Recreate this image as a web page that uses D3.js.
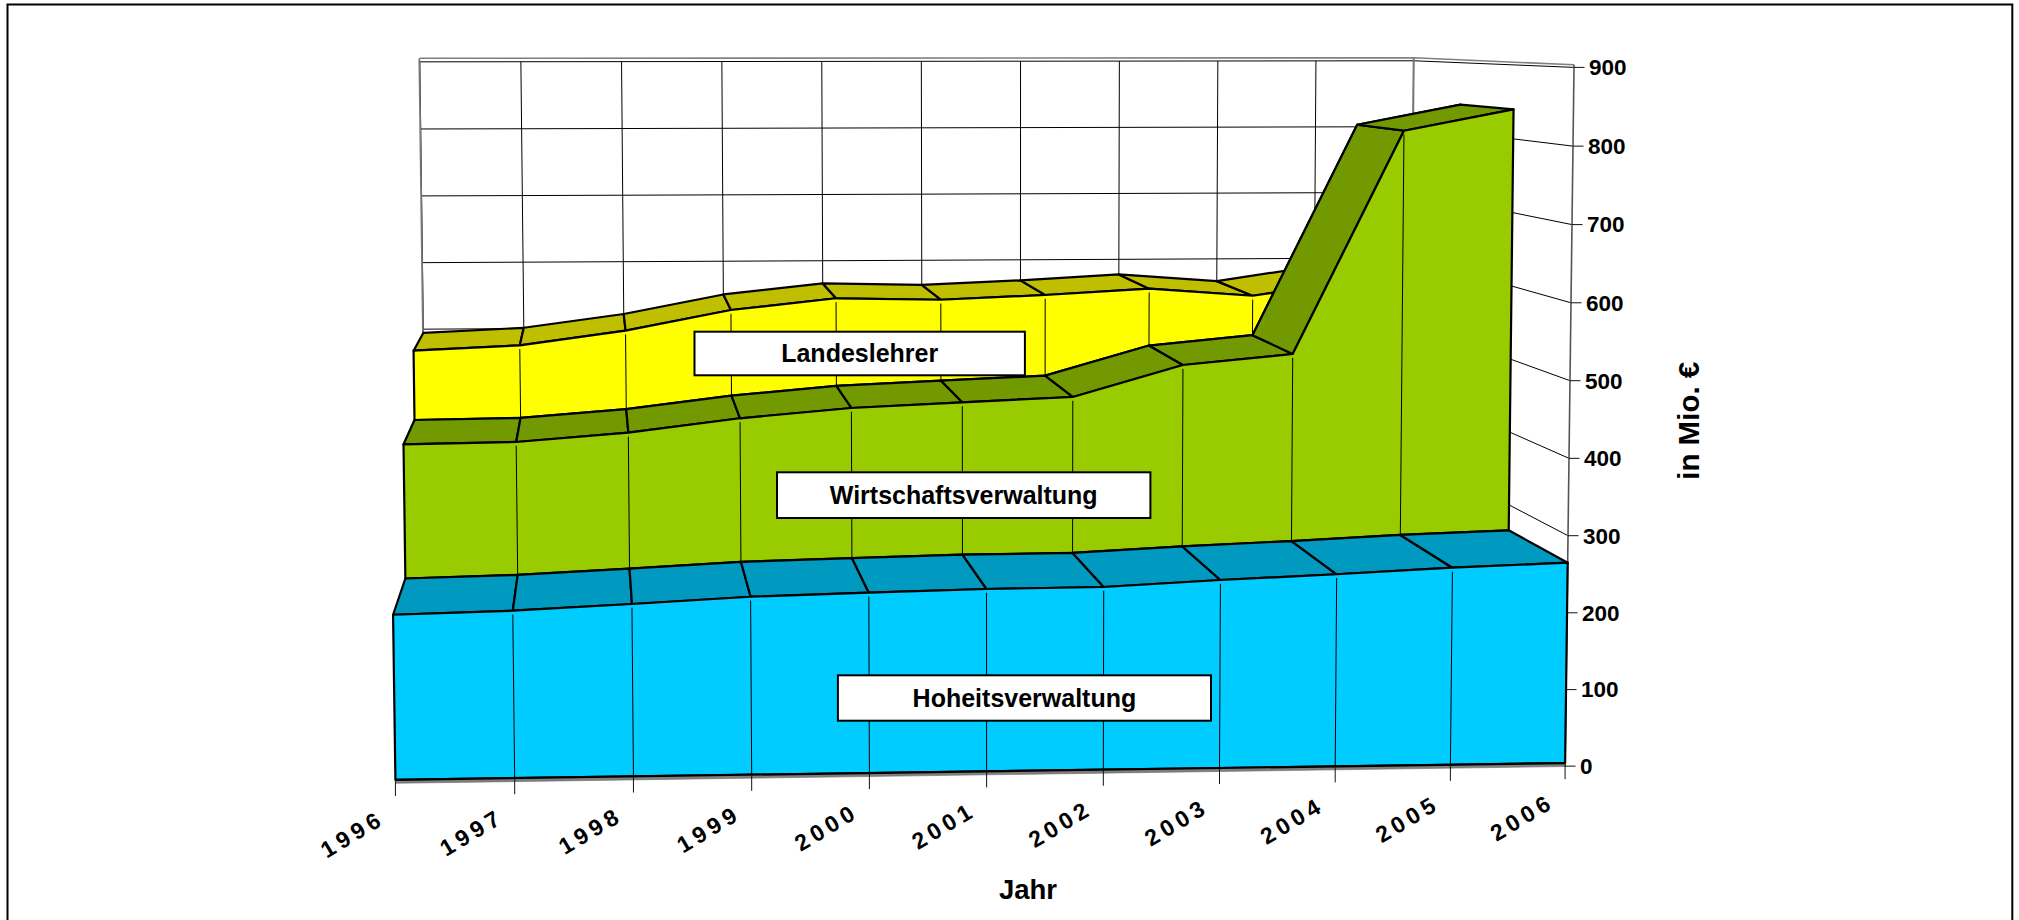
<!DOCTYPE html>
<html><head><meta charset="utf-8">
<script src="https://cdn.jsdelivr.net/npm/d3@7"></script>
<style>html,body{margin:0;padding:0;background:#fff;overflow:hidden}
text{font-family:"Liberation Sans",Arial,sans-serif;font-weight:bold;fill:#000}</style>
</head><body><svg id="c" width="2019" height="920"></svg>
<script>
const years=["1996","1997","1998","1999","2000","2001","2002","2003","2004","2005","2006"];
const yTicks=[0,100,200,300,400,500,600,700,800,900];
const hoheit=[214.6,218.0,224.9,232.5,236.0,239.1,240.0,247.4,253.2,260.1,265.0];
const wirtschaft=[395.7,397.6,408.9,427.2,440.0,446.6,452.7,495.1,509.1,811.4,840.0];
const lehrer=[494.5,501.2,521.1,549.8,565.7,562.8,568.8,577.0,566.1,588.0,594.5];
const seriesNames=["Hoheitsverwaltung","Wirtschaftsverwaltung","Landeslehrer"];

// perspective camera of the 3-D box (normalised coordinates -> thousand pixels)
const CAM=[1.204021,-0.016261,0.116279,0.395445,0.000080,-0.715209,0.005290,0.782906,0.021979,-0.016157,0.196337];
const xS=d3.scalePoint().domain(years).range([0,1]);
const vS=d3.scaleLinear().domain([0,900]).range([0,1]);
const zS=d3.scaleLinear().domain([0,3]).range([0,1]);
function P(year,v,z){const X=xS(year),Y=vS(v),Z=zS(z),w=CAM[8]*X+CAM[9]*Y+CAM[10]*Z+1;
 return [1000*(CAM[0]*X+CAM[1]*Y+CAM[2]*Z+CAM[3])/w,1000*(CAM[4]*X+CAM[5]*Y+CAM[6]*Z+CAM[7])/w];}
const first=years[0],last=years[years.length-1];
const svg=d3.select("#c"),line=d3.line();
const seg=(pts,col,sw)=>svg.append("path").attr("d",line(pts)).attr("fill","none").attr("stroke",col).attr("stroke-width",sw);
const poly=(pts,fill,sw)=>svg.append("path").attr("d",line(pts)+"Z").attr("fill",fill).attr("stroke",sw?"#000":"none").attr("stroke-width",sw).attr("stroke-linejoin","round");
const off=(p,dx,dy)=>[p[0]+dx,p[1]+dy];

// outer frame
svg.append("rect").attr("x",7.5).attr("y",4.5).attr("width",2004.8).attr("height",930).attr("fill","#fff").attr("stroke","#000").attr("stroke-width",2);

// back wall grid
yTicks.forEach(v=>seg([P(first,v,3),P(last,v,3)],"#000",1));
years.forEach(y=>seg([P(y,0,3),P(y,900,3)],"#000",1));
// right wall lines
yTicks.forEach(v=>seg([P(last,v,3),P(last,v,0)],"#000",1));
// wall edges
seg([off(P(first,900,3),0,-3.6),off(P(last,900,3),0,-3),off(P(last,900,0),0,-2.6)],"#808080",1.6);
seg([off(P(first,0,3),-0.5,0),off(P(first,900,3),-0.5,-3.6)],"#777",1.8);
seg([P(last,0,3),off(P(last,900,3),0,-3)],"#777",2);
seg([P(last,0,0),off(P(last,900,0),0,-2.6)],"#555",1.6);

// layers, back to front
const floorV=4;
[[lehrer,2,"#FFFF00","#BFBF00",wirtschaft],
 [wirtschaft,1,"#99CC00","#739900",hoheit],
 [hoheit,0,"#00CCFF","#0099BF",years.map(()=>floorV)]].forEach(([v,z,c,c2,b])=>{
  years.slice(0,-1).forEach((y,i)=>poly([P(y,v[i],z),P(years[i+1],v[i+1],z),P(years[i+1],v[i+1],z+1),P(y,v[i],z+1)],c2,2.2));
  poly(years.map((y,i)=>P(y,v[i],z)).concat(years.map((y,i)=>P(y,b[i],z)).reverse()),c,2.2);
  years.slice(1,-1).forEach((y,k)=>{const i=k+1;
    seg([off(P(y,v[i],z),0,3.8),P(y,b[i],z)],"#000",1);});
});
// floor
poly([P(first,floorV,0),P(last,floorV,0),P(last,-0.5,0),P(first,-0.5,0)],"#808080",0);
seg([P(first,-0.5,0),P(last,-0.5,0)],"#666",0.6);
seg([P(first,floorV,0),P(last,floorV,0)],"#000",2.2);

// x ticks and labels
years.forEach(y=>{const p=P(y,0,0);
  seg([P(y,floorV,0),off(p,0,13)],"#111",1);
  svg.append("text").attr("transform",`translate(${p[0]-43},${p[1]+51}) rotate(-31)`)
   .attr("text-anchor","middle").attr("dy","0.35em").attr("font-size",23).attr("letter-spacing",4.6).text(y);
});
// y ticks and labels
yTicks.forEach(v=>{const p=P(last,v,0);
  seg([p,off(p,10.5,0)],"#111",1);
  svg.append("text").attr("x",p[0]+15).attr("y",p[1]).attr("dy","0.35em").attr("font-size",22.5).text(v);
});
// series labels
const boxes=[[837.9,675.3,373.1,45.4],[777,472.3,373.4,45.7],[694.5,331.7,330.4,43.6]];
seriesNames.forEach((n,i)=>{const [x,y,w,h]=boxes[i];
  svg.append("rect").attr("x",x).attr("y",y).attr("width",w).attr("height",h).attr("fill","#fff").attr("stroke","#000").attr("stroke-width",2);
  svg.append("text").attr("x",x+w/2).attr("y",y+h/2).attr("dy","0.35em").attr("text-anchor","middle").attr("font-size",25).text(n);
});
// axis titles
svg.append("text").attr("x",1028).attr("y",899).attr("text-anchor","middle").attr("font-size",27.5).text("Jahr");
svg.append("text").attr("transform","translate(1699.3,420.8) rotate(-90)").attr("text-anchor","middle").attr("font-size",29.5).text("in Mio. €");
</script></body></html>
